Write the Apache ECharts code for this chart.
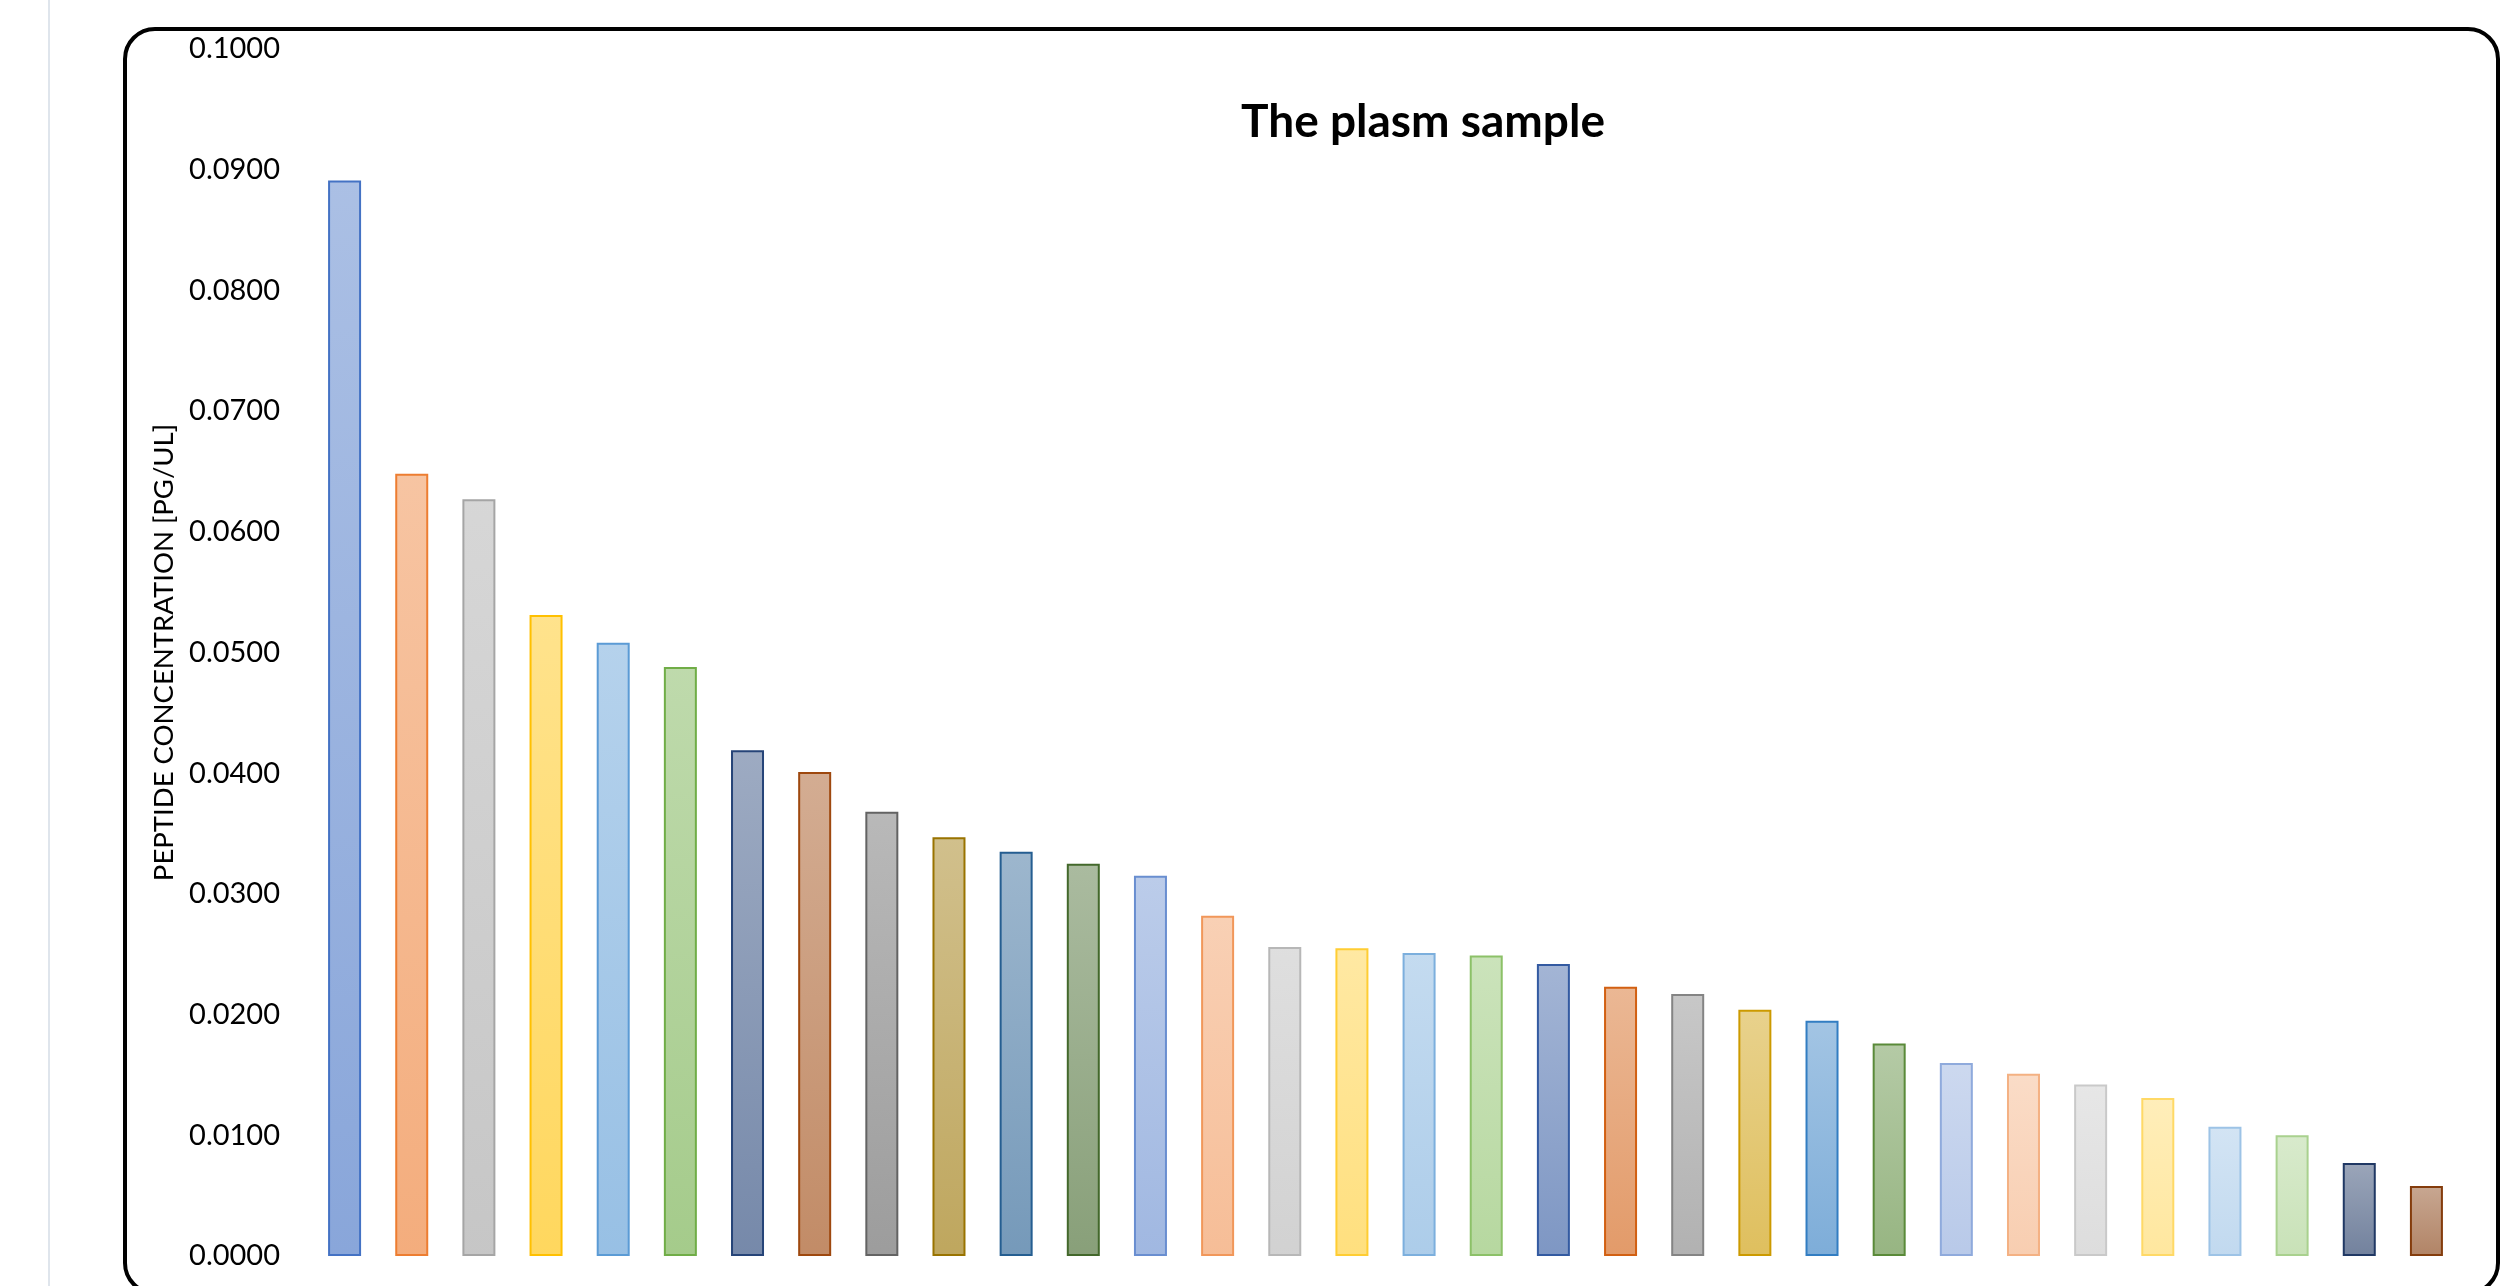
<!DOCTYPE html>
<html>
<head>
<meta charset="utf-8">
<script src="https://cdn.jsdelivr.net/npm/echarts@6/dist/echarts.min.js"></script>
<style>
html,body{margin:0;padding:0;background:#fff;}
#chart{width:2519px;height:1286px;}
</style>
</head>
<body>
<div id="chart"></div>
<script>
// ---- data ----
const categories = ["1","2","3","4","5","6","7","8","9","10","11","12","13","14","15","16",
  "17","18","19","20","21","22","23","24","25","26","27","28","29","30","31","32"];
const concentration = [0.0891, 0.0648, 0.0627, 0.0531, 0.0508, 0.0488, 0.0419, 0.0401,
  0.0368, 0.0347, 0.0335, 0.0325, 0.0315, 0.0282, 0.0256, 0.0255,
  0.0251, 0.0249, 0.0242, 0.0223, 0.0217, 0.0204, 0.0195, 0.0176,
  0.0160, 0.0151, 0.0142, 0.0131, 0.0107, 0.0100, 0.0077, 0.0058];
const titleText = "The plasm sample";
const yAxisName = "PEPTIDE CONCENTRATION [PG/UL]";
const yTicks = {min: 0, max: 0.1, interval: 0.01};

// ---- palette (style) ----
const palette = ["#4472C4","#ED7D31","#A5A5A5","#FFC000","#5B9BD5","#70AD47",
  "#264478","#9E480E","#636363","#997300","#255E91","#43682B",
  "#698ED0","#F1975A","#B7B7B7","#FFCD33","#7CAFDD","#8CC168",
  "#335AA1","#D26012","#848484","#CC9A00","#327DC2","#5A8A39",
  "#8FAADC","#F4B183","#C9C9C9","#FFD966","#9DC3E6","#A9D18E",
  "#203864","#843C0C"];

function rgba(hex, a){
  const n = parseInt(hex.slice(1),16);
  return 'rgba(' + ((n>>16)&255) + ',' + ((n>>8)&255) + ',' + (n&255) + ',' + a + ')';
}

const barData = concentration.map((v,i)=>{
  const c = palette[i % palette.length];
  return {
    value: v,
    itemStyle: {
      color: {type:'linear', x:0, y:0, x2:0, y2:1,
        colorStops:[{offset:0, color: rgba(c,0.45)},{offset:1, color: rgba(c,0.63)}]},
      borderColor: c,
      borderWidth: 2
    }
  };
});

const chart = echarts.init(document.getElementById('chart'), null, {renderer:'canvas'});
const FONT = 'Lato, "Open Sans", sans-serif';
chart.setOption({
  animation: false,
  backgroundColor: '#ffffff',
  title: {
    text: titleText,
    left: 1418, top: 94, textAlign: 'center',
    textStyle: {fontFamily: FONT, fontWeight: 'bold', fontSize: 46, color: '#000'}
  },
  grid: {left: 311, right: 59, top: 49, bottom: 30, containLabel: false},
  xAxis: {
    type: 'category',
    data: categories,
    axisLine: {show: false},
    axisTick: {show: false},
    axisLabel: {show: false},
    splitLine: {show: false}
  },
  yAxis: {
    type: 'value',
    min: yTicks.min, max: yTicks.max, interval: yTicks.interval,
    name: yAxisName,
    nameLocation: 'middle',
    nameGap: 132,
    nameRotate: 90,
    nameTextStyle: {fontFamily: FONT, fontSize: 27.5, color: '#000'},
    axisLine: {show: false},
    axisTick: {show: false},
    splitLine: {show: false},
    axisLabel: {
      margin: 31,
      fontFamily: FONT, fontSize: 29, color: '#000',
      formatter: v => v.toFixed(4)
    }
  },
  series: [{
    type: 'bar',
    data: barData,
    barWidth: 33
  }],
  graphic: [
    {type: 'line', shape: {x1: 49, y1: 0, x2: 49, y2: 1286}, style: {stroke: '#dfe5ec', lineWidth: 2}, silent: true},
    {type: 'rect', shape: {x: 125, y: 29, width: 2373, height: 1264, r: 30},
      style: {fill: 'none', stroke: '#000', lineWidth: 4}, silent: true}
  ]
});
</script>
</body>
</html>
